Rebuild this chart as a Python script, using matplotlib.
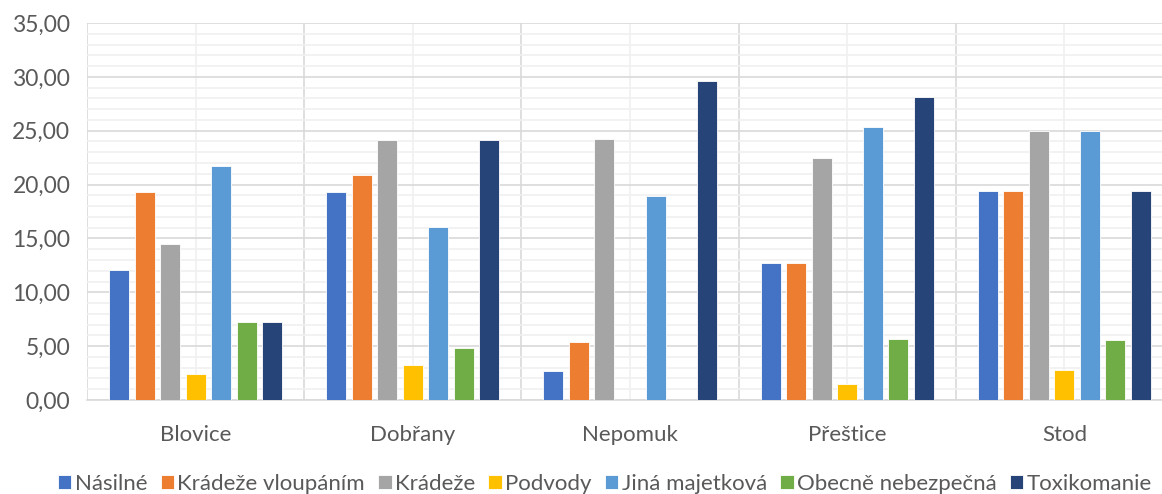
import numpy as np
import matplotlib.pyplot as plt
from matplotlib.ticker import MultipleLocator, FuncFormatter

plt.rcParams['font.family'] = ['Lato', 'DejaVu Sans']

mesta = ['Blovice', 'Dobřany', 'Nepomuk', 'Přeštice', 'Stod']
serie = ['Násilné', 'Krádeže vloupáním', 'Krádeže', 'Podvody',
         'Jiná majetková', 'Obecně nebezpečná', 'Toxikomanie']
nasilne = [12.05, 19.3, 2.7, 12.7, 19.4]
vloupani = [19.3, 20.9, 5.4, 12.7, 19.4]
kradeze = [14.5, 24.15, 24.25, 22.5, 24.95]
podvody = [2.45, 3.25, 0.0, 1.45, 2.8]
jina_maj = [21.7, 16.1, 18.9, 25.35, 24.95]
obecne = [7.25, 4.85, 0.0, 5.65, 5.55]
toxiko = [7.25, 24.15, 29.65, 28.15, 19.4]
hodnoty = [nasilne, vloupani, kradeze, podvody, jina_maj, obecne, toxiko]
barvy = ['#4472C4', '#ED7D31', '#A5A5A5', '#FFC000', '#5B9BD5', '#70AD47', '#264478']

fig = plt.figure(figsize=(11.62, 4.94), dpi=100)
ax = fig.add_axes([87/1162, 1 - 400/494, 1086/1162, 377/494])

x = np.arange(len(mesta))
krok = 0.1175
for i, (s, h, c) in enumerate(zip(serie, hodnoty, barvy)):
    ax.bar(x + (i - 3) * krok, h, width=0.092, color=c, label=s, zorder=3,
           edgecolor='white', linewidth=0.6)

ax.set_xlim(-0.5, 4.5)
ax.set_ylim(0, 35)
ax.yaxis.set_major_locator(MultipleLocator(5))
ax.yaxis.set_minor_locator(MultipleLocator(1))
ax.yaxis.set_major_formatter(FuncFormatter(lambda v, p: f'{v:.2f}'.replace('.', ',')))
ax.set_xticks(x)
ax.set_xticklabels(mesta)
ax.set_xticks(np.arange(-0.5, 5, 1), minor=True)

ax.grid(which='major', axis='y', color='#D9D9D9', linewidth=1.2, zorder=0)
ax.grid(which='minor', axis='y', color='#F0F0F0', linewidth=1.2, zorder=0)
ax.grid(which='minor', axis='x', color='#D9D9D9', linewidth=1.2, zorder=0)
ax.grid(which='major', axis='x', color='#F0F0F0', linewidth=1.2, zorder=0)

for sp in ['top', 'right', 'left']:
    ax.spines[sp].set_visible(False)
ax.spines['bottom'].set_color('#D9D9D9')
ax.spines['bottom'].set_linewidth(1.2)

ax.tick_params(which='both', length=0)
ax.tick_params(axis='y', labelsize=16.5, colors='#595959', pad=12)
ax.tick_params(axis='x', labelsize=16, colors='#595959', pad=18)

ax.legend(loc='center', bbox_to_anchor=(605/1162, 1 - 484/494), bbox_transform=fig.transFigure,
          ncol=7, frameon=False, fontsize=16, labelcolor='#595959',
          handlelength=0.6, handleheight=0.6, handletextpad=0.15, columnspacing=0.6)

fig.savefig('out.png', dpi=100)
